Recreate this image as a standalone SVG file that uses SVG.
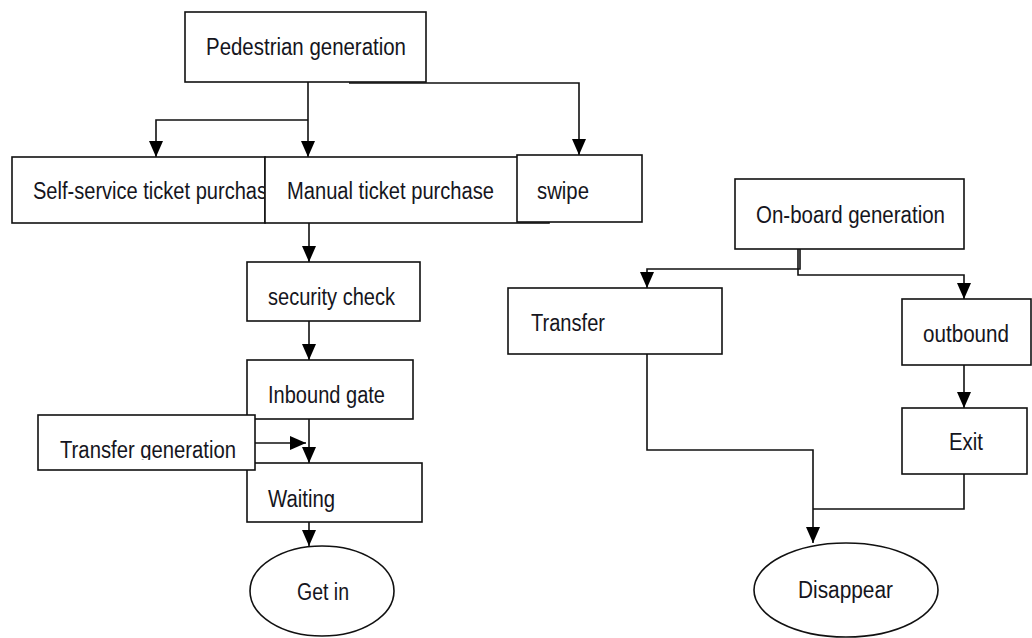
<svg xmlns="http://www.w3.org/2000/svg" width="1032" height="638" viewBox="0 0 1032 638">
<style>
.box{fill:#fff;stroke:#111;stroke-width:1.6}
.lbl{font-family:"Liberation Sans",Arial,sans-serif;font-size:23px;fill:#151520}
.con{fill:none;stroke:#111;stroke-width:1.6}
</style>
<defs>
<marker id="ah" markerUnits="userSpaceOnUse" markerWidth="16" markerHeight="14" refX="16" refY="7" orient="auto">
<path d="M0,0 L16,7 L0,14 z" fill="#000"/>
</marker>
<clipPath id="clipTG"><rect x="38" y="415" width="217" height="45"/></clipPath>
<clipPath id="clipSS"><rect x="12" y="157" width="252" height="66"/></clipPath>
</defs>
<rect width="1032" height="638" fill="#fff"/>

<g id="connectors">
<path class="con" d="M308,82 V157" marker-end="url(#ah)"/>
<path class="con" d="M308,120 H156 V157" marker-end="url(#ah)"/>
<path class="con" d="M349,83 H579 V155" marker-end="url(#ah)"/>
<path class="con" d="M309,223 V262" marker-end="url(#ah)"/>
<path class="con" d="M309,321 V360" marker-end="url(#ah)"/>
<path class="con" d="M309,419 V463" marker-end="url(#ah)"/>
<path class="con" d="M255,443 H306" marker-end="url(#ah)"/>
<path class="con" d="M309,522 V546" marker-end="url(#ah)"/>
<path class="con" d="M800,249 V269 H647 V288" marker-end="url(#ah)"/>
<path class="con" d="M798,249 V275 H964 V299" marker-end="url(#ah)"/>
<path class="con" d="M964,365 V408" marker-end="url(#ah)"/>
<path class="con" d="M647,354 V450 H813 V543" marker-end="url(#ah)"/>
<path class="con" d="M964,474 V509 H813"/>
</g>

<g id="pedestrian-generation">
<rect class="box" x="185" y="12" width="241" height="70"/>
<text class="lbl" x="206" y="55" textLength="200" lengthAdjust="spacingAndGlyphs">Pedestrian generation</text>
</g>
<g id="self-service">
<rect class="box" x="12" y="157" width="253" height="66"/>
<text class="lbl" x="33" y="199" textLength="234" lengthAdjust="spacingAndGlyphs" clip-path="url(#clipSS)">Self-service ticket purchas</text>
</g>
<g id="manual">
<rect class="box" x="265" y="157" width="284" height="66"/>
<text class="lbl" x="287" y="199" textLength="207" lengthAdjust="spacingAndGlyphs">Manual ticket purchase</text>
</g>
<g id="swipe">
<rect class="box" x="517" y="155" width="125" height="67"/>
<text class="lbl" x="537" y="199" textLength="52" lengthAdjust="spacingAndGlyphs">swipe</text>
</g>
<g id="security-check">
<rect class="box" x="247" y="262" width="173" height="59"/>
<text class="lbl" x="268" y="305" textLength="127" lengthAdjust="spacingAndGlyphs">security check</text>
</g>
<g id="inbound-gate">
<rect class="box" x="247" y="360" width="166" height="59"/>
<text class="lbl" x="268" y="403" textLength="117" lengthAdjust="spacingAndGlyphs">Inbound gate</text>
</g>
<g id="waiting">
<rect class="box" x="247" y="463" width="175" height="59"/>
<text class="lbl" x="268" y="507" textLength="67" lengthAdjust="spacingAndGlyphs">Waiting</text>
</g>
<g id="transfer-generation">
<rect class="box" x="38" y="415" width="217" height="55"/>
<text class="lbl" x="60" y="458" textLength="176" lengthAdjust="spacingAndGlyphs" clip-path="url(#clipTG)">Transfer generation</text>
</g>
<g id="get-in">
<ellipse class="box" cx="322" cy="591" rx="72" ry="45"/>
<text class="lbl" x="297" y="600" textLength="52" lengthAdjust="spacingAndGlyphs">Get in</text>
</g>
<g id="on-board-generation">
<rect class="box" x="735" y="179" width="229" height="70"/>
<text class="lbl" x="756" y="223" textLength="189" lengthAdjust="spacingAndGlyphs">On-board generation</text>
</g>
<g id="transfer">
<rect class="box" x="508" y="288" width="214" height="66"/>
<text class="lbl" x="531" y="331" textLength="74" lengthAdjust="spacingAndGlyphs">Transfer</text>
</g>
<g id="outbound">
<rect class="box" x="902" y="299" width="129" height="66"/>
<text class="lbl" x="923" y="342" textLength="86" lengthAdjust="spacingAndGlyphs">outbound</text>
</g>
<g id="exit">
<rect class="box" x="902" y="408" width="125" height="66"/>
<text class="lbl" x="949" y="450" textLength="34" lengthAdjust="spacingAndGlyphs">Exit</text>
</g>
<g id="disappear">
<ellipse class="box" cx="846" cy="590" rx="92" ry="47"/>
<text class="lbl" x="798" y="598" textLength="95" lengthAdjust="spacingAndGlyphs">Disappear</text>
</g>
</svg>
